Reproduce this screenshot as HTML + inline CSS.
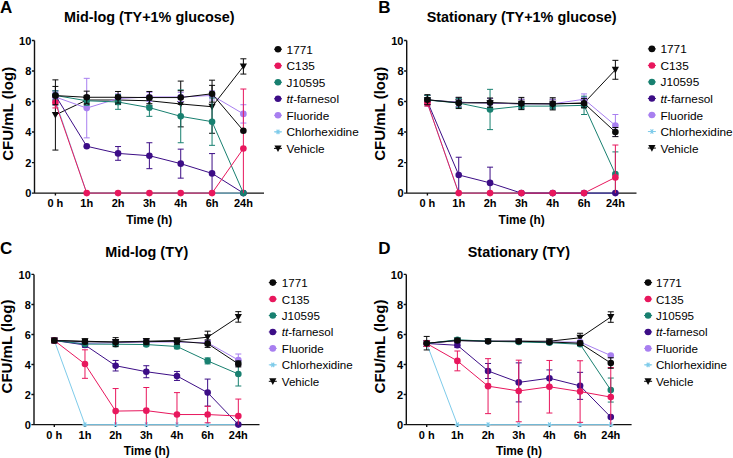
<!DOCTYPE html>
<html><head><meta charset="utf-8"><style>
html,body{margin:0;padding:0;background:#fff;}
body{width:733px;height:458px;overflow:hidden;}
svg{display:block;font-family:"Liberation Sans",sans-serif;}
.let{font-size:17px;font-weight:bold;fill:#000;}
.ttl{font-size:14.4px;font-weight:bold;fill:#000;}
.ylab{font-size:15px;font-weight:bold;fill:#000;}
.tick{font-size:11px;font-weight:bold;fill:#000;}
.xlab{font-size:11.9px;font-weight:bold;fill:#000;}
.leg{fill:#000;}
</style></head><body>
<svg width="733" height="458" viewBox="0 0 733 458">
<rect width="733" height="458" fill="#fff"/>
<g><text x="0.1" y="13.1" class="let">A</text>
<text x="149.25" y="22.1" class="ttl" text-anchor="middle">Mid-log (TY+1% glucose)</text>
<text transform="translate(12.9 113.8) rotate(-90)" class="ylab" text-anchor="middle">CFU/mL (log)</text>
<path d="M34.5 40.5V193.1M34.5 193.1H264M31.9 193.1H34.5M31.9 162.58H34.5M31.9 132.06H34.5M31.9 101.54H34.5M31.9 71.02H34.5M31.9 40.5H34.5M55.4 193.1V195.6M86.73 193.1V195.6M118.06 193.1V195.6M149.39 193.1V195.6M180.72 193.1V195.6M212.05 193.1V195.6M243.38 193.1V195.6" stroke="#111" stroke-width="1.4" fill="none"/>
<polyline points="55.4,114.97 86.73,100.01 118.06,100.01 149.39,100.78 180.72,103.98 212.05,106.73 243.38,66.44" fill="none" stroke="#0a0a0a" stroke-width="1"/>
<path d="M55.4 79.87V150.07M52.4 79.87H58.4M52.4 150.07H58.4" stroke="#0a0a0a" stroke-width="1" fill="none"/>
<path d="M86.73 95.44V104.59M83.73 95.44H89.73M83.73 104.59H89.73" stroke="#0a0a0a" stroke-width="1" fill="none"/>
<path d="M118.06 95.44V104.59M115.06 95.44H121.06M115.06 104.59H121.06" stroke="#0a0a0a" stroke-width="1" fill="none"/>
<path d="M149.39 96.2V105.35M146.39 96.2H152.39M146.39 105.35H152.39" stroke="#0a0a0a" stroke-width="1" fill="none"/>
<path d="M180.72 81.09V126.87M177.72 81.09H183.72M177.72 126.87H183.72" stroke="#0a0a0a" stroke-width="1" fill="none"/>
<path d="M212.05 80.18V133.28M209.05 80.18H215.05M209.05 133.28H215.05" stroke="#0a0a0a" stroke-width="1" fill="none"/>
<path d="M243.38 58.81V74.07M240.38 58.81H246.38M240.38 74.07H246.38" stroke="#0a0a0a" stroke-width="1" fill="none"/>
<path d="M51.8 111.97L59 111.97L55.4 118.57Z" fill="#0a0a0a"/>
<path d="M83.13 97.01L90.33 97.01L86.73 103.61Z" fill="#0a0a0a"/>
<path d="M114.46 97.01L121.66 97.01L118.06 103.61Z" fill="#0a0a0a"/>
<path d="M145.79 97.78L152.99 97.78L149.39 104.38Z" fill="#0a0a0a"/>
<path d="M177.12 100.98L184.32 100.98L180.72 107.58Z" fill="#0a0a0a"/>
<path d="M208.45 103.73L215.65 103.73L212.05 110.33Z" fill="#0a0a0a"/>
<path d="M239.78 63.44L246.98 63.44L243.38 70.04Z" fill="#0a0a0a"/>
<polyline points="55.4,100.78 86.73,193.1 118.06,193.1 149.39,193.1 180.72,193.1 212.05,193.1 243.38,193.1" fill="none" stroke="#7ecbea" stroke-width="1"/>
<path d="M55.4 96.2V105.35M52.4 96.2H58.4M52.4 105.35H58.4" stroke="#7ecbea" stroke-width="1" fill="none"/>
<path d="M52.8 100.78L58 100.78M54.1 98.53L56.7 103.03M56.7 98.53L54.1 103.03" stroke="#7ecbea" stroke-width="1.1" fill="none"/>
<path d="M84.13 193.1L89.33 193.1M85.43 190.85L88.03 195.35M88.03 190.85L85.43 195.35" stroke="#7ecbea" stroke-width="1.1" fill="none"/>
<path d="M115.46 193.1L120.66 193.1M116.76 190.85L119.36 195.35M119.36 190.85L116.76 195.35" stroke="#7ecbea" stroke-width="1.1" fill="none"/>
<path d="M146.79 193.1L151.99 193.1M148.09 190.85L150.69 195.35M150.69 190.85L148.09 195.35" stroke="#7ecbea" stroke-width="1.1" fill="none"/>
<path d="M178.12 193.1L183.32 193.1M179.42 190.85L182.02 195.35M182.02 190.85L179.42 195.35" stroke="#7ecbea" stroke-width="1.1" fill="none"/>
<path d="M209.45 193.1L214.65 193.1M210.75 190.85L213.35 195.35M213.35 190.85L210.75 195.35" stroke="#7ecbea" stroke-width="1.1" fill="none"/>
<path d="M240.78 193.1L245.98 193.1M242.08 190.85L244.68 195.35M244.68 190.85L242.08 195.35" stroke="#7ecbea" stroke-width="1.1" fill="none"/>
<polyline points="55.4,96.96 86.73,108.1 118.06,98.49 149.39,96.96 180.72,96.96 212.05,95.44 243.38,113.9" fill="none" stroke="#a87ff0" stroke-width="1"/>
<path d="M55.4 92.38V101.54M52.4 92.38H58.4M52.4 101.54H58.4" stroke="#a87ff0" stroke-width="1" fill="none"/>
<path d="M86.73 78.34V137.86M83.73 78.34H89.73M83.73 137.86H89.73" stroke="#a87ff0" stroke-width="1" fill="none"/>
<path d="M118.06 93.91V103.07M115.06 93.91H121.06M115.06 103.07H121.06" stroke="#a87ff0" stroke-width="1" fill="none"/>
<path d="M149.39 92.38V101.54M146.39 92.38H152.39M146.39 101.54H152.39" stroke="#a87ff0" stroke-width="1" fill="none"/>
<path d="M180.72 92.38V101.54M177.72 92.38H183.72M177.72 101.54H183.72" stroke="#a87ff0" stroke-width="1" fill="none"/>
<path d="M212.05 90.86V100.01M209.05 90.86H215.05M209.05 100.01H215.05" stroke="#a87ff0" stroke-width="1" fill="none"/>
<path d="M243.38 104.74V123.06M240.38 104.74H246.38M240.38 123.06H246.38" stroke="#a87ff0" stroke-width="1" fill="none"/>
<circle cx="55.4" cy="96.96" r="3.3" fill="#a87ff0"/>
<circle cx="86.73" cy="108.1" r="3.3" fill="#a87ff0"/>
<circle cx="118.06" cy="98.49" r="3.3" fill="#a87ff0"/>
<circle cx="149.39" cy="96.96" r="3.3" fill="#a87ff0"/>
<circle cx="180.72" cy="96.96" r="3.3" fill="#a87ff0"/>
<circle cx="212.05" cy="95.44" r="3.3" fill="#a87ff0"/>
<circle cx="243.38" cy="113.9" r="3.3" fill="#a87ff0"/>
<polyline points="55.4,95.44 86.73,146.25 118.06,153.42 149.39,155.71 180.72,163.65 212.05,173.41 243.38,193.1" fill="none" stroke="#3c0d86" stroke-width="1"/>
<path d="M55.4 90.86V100.01M52.4 90.86H58.4M52.4 100.01H58.4" stroke="#3c0d86" stroke-width="1" fill="none"/>
<path d="M118.06 146.56V160.29M115.06 146.56H121.06M115.06 160.29H121.06" stroke="#3c0d86" stroke-width="1" fill="none"/>
<path d="M149.39 142.74V168.68M146.39 142.74H152.39M146.39 168.68H152.39" stroke="#3c0d86" stroke-width="1" fill="none"/>
<path d="M180.72 149.15V178.15M177.72 149.15H183.72M177.72 178.15H183.72" stroke="#3c0d86" stroke-width="1" fill="none"/>
<path d="M212.05 153.58V193.1M209.05 153.58H215.05" stroke="#3c0d86" stroke-width="1" fill="none"/>
<circle cx="55.4" cy="95.44" r="3.3" fill="#3c0d86"/>
<circle cx="86.73" cy="146.25" r="3.3" fill="#3c0d86"/>
<circle cx="118.06" cy="153.42" r="3.3" fill="#3c0d86"/>
<circle cx="149.39" cy="155.71" r="3.3" fill="#3c0d86"/>
<circle cx="180.72" cy="163.65" r="3.3" fill="#3c0d86"/>
<circle cx="212.05" cy="173.41" r="3.3" fill="#3c0d86"/>
<circle cx="243.38" cy="193.1" r="3.3" fill="#3c0d86"/>
<polyline points="55.4,95.44 86.73,100.78 118.06,102 149.39,107.64 180.72,116.34 212.05,121.68 243.38,193.1" fill="none" stroke="#188070" stroke-width="1"/>
<path d="M55.4 90.86V100.01M52.4 90.86H58.4M52.4 100.01H58.4" stroke="#188070" stroke-width="1" fill="none"/>
<path d="M86.73 96.2V105.35M83.73 96.2H89.73M83.73 105.35H89.73" stroke="#188070" stroke-width="1" fill="none"/>
<path d="M118.06 94.67V109.32M115.06 94.67H121.06M115.06 109.32H121.06" stroke="#188070" stroke-width="1" fill="none"/>
<path d="M149.39 98.95V116.34M146.39 98.95H152.39M146.39 116.34H152.39" stroke="#188070" stroke-width="1" fill="none"/>
<path d="M180.72 89.94V142.74M177.72 89.94H183.72M177.72 142.74H183.72" stroke="#188070" stroke-width="1" fill="none"/>
<path d="M212.05 98.03V145.34M209.05 98.03H215.05M209.05 145.34H215.05" stroke="#188070" stroke-width="1" fill="none"/>
<circle cx="55.4" cy="95.44" r="3.3" fill="#188070"/>
<circle cx="86.73" cy="100.78" r="3.3" fill="#188070"/>
<circle cx="118.06" cy="102" r="3.3" fill="#188070"/>
<circle cx="149.39" cy="107.64" r="3.3" fill="#188070"/>
<circle cx="180.72" cy="116.34" r="3.3" fill="#188070"/>
<circle cx="212.05" cy="121.68" r="3.3" fill="#188070"/>
<circle cx="243.38" cy="193.1" r="3.3" fill="#188070"/>
<polyline points="55.4,102.61 86.73,193.1 118.06,193.1 149.39,193.1 180.72,193.1 212.05,193.1 243.38,148.54" fill="none" stroke="#e8175d" stroke-width="1"/>
<path d="M55.4 97.27V107.95M52.4 97.27H58.4M52.4 107.95H58.4" stroke="#e8175d" stroke-width="1" fill="none"/>
<path d="M243.38 89.03V193.1M240.38 89.03H246.38" stroke="#e8175d" stroke-width="1" fill="none"/>
<circle cx="55.4" cy="102.61" r="3.3" fill="#e8175d"/>
<circle cx="86.73" cy="193.1" r="3.3" fill="#e8175d"/>
<circle cx="118.06" cy="193.1" r="3.3" fill="#e8175d"/>
<circle cx="149.39" cy="193.1" r="3.3" fill="#e8175d"/>
<circle cx="180.72" cy="193.1" r="3.3" fill="#e8175d"/>
<circle cx="212.05" cy="193.1" r="3.3" fill="#e8175d"/>
<circle cx="243.38" cy="148.54" r="3.3" fill="#e8175d"/>
<polyline points="55.4,95.59 86.73,97.27 118.06,97.27 149.39,97.57 180.72,97.57 212.05,93.76 243.38,130.69" fill="none" stroke="#0a0a0a" stroke-width="1"/>
<path d="M55.4 86.43V104.74M52.4 86.43H58.4M52.4 104.74H58.4" stroke="#0a0a0a" stroke-width="1" fill="none"/>
<path d="M86.73 91.16V103.37M83.73 91.16H89.73M83.73 103.37H89.73" stroke="#0a0a0a" stroke-width="1" fill="none"/>
<path d="M118.06 91.47V103.07M115.06 91.47H121.06M115.06 103.07H121.06" stroke="#0a0a0a" stroke-width="1" fill="none"/>
<path d="M149.39 91.47V103.68M146.39 91.47H152.39M146.39 103.68H152.39" stroke="#0a0a0a" stroke-width="1" fill="none"/>
<path d="M180.72 90.71V104.44M177.72 90.71H183.72M177.72 104.44H183.72" stroke="#0a0a0a" stroke-width="1" fill="none"/>
<path d="M212.05 85.36V102.15M209.05 85.36H215.05M209.05 102.15H215.05" stroke="#0a0a0a" stroke-width="1" fill="none"/>
<circle cx="55.4" cy="95.59" r="3.3" fill="#0a0a0a"/>
<circle cx="86.73" cy="97.27" r="3.3" fill="#0a0a0a"/>
<circle cx="118.06" cy="97.27" r="3.3" fill="#0a0a0a"/>
<circle cx="149.39" cy="97.57" r="3.3" fill="#0a0a0a"/>
<circle cx="180.72" cy="97.57" r="3.3" fill="#0a0a0a"/>
<circle cx="212.05" cy="93.76" r="3.3" fill="#0a0a0a"/>
<circle cx="243.38" cy="130.69" r="3.3" fill="#0a0a0a"/>
<text x="31.3" y="197.4" class="tick" text-anchor="end">0</text>
<text x="31.3" y="166.88" class="tick" text-anchor="end">2</text>
<text x="31.3" y="136.36" class="tick" text-anchor="end">4</text>
<text x="31.3" y="105.84" class="tick" text-anchor="end">6</text>
<text x="31.3" y="75.32" class="tick" text-anchor="end">8</text>
<text x="31.3" y="44.8" class="tick" text-anchor="end">10</text>
<text x="55.4" y="207.2" class="tick" text-anchor="middle">0 h</text>
<text x="86.73" y="207.2" class="tick" text-anchor="middle">1h</text>
<text x="118.06" y="207.2" class="tick" text-anchor="middle">2h</text>
<text x="149.39" y="207.2" class="tick" text-anchor="middle">3h</text>
<text x="180.72" y="207.2" class="tick" text-anchor="middle">4h</text>
<text x="212.05" y="207.2" class="tick" text-anchor="middle">6h</text>
<text x="243.38" y="207.2" class="tick" text-anchor="middle">24h</text>
<text x="149.25" y="223.5" class="xlab" text-anchor="middle">Time (h)</text>
<path d="M274 49.2H282" stroke="#0a0a0a" stroke-width="1"/>
<circle cx="278" cy="49.2" r="3.3" fill="#0a0a0a"/>
<text x="286.6" y="53.7" class="leg" font-size="11.8">1771</text>
<path d="M274 65.73H282" stroke="#e8175d" stroke-width="1"/>
<circle cx="278" cy="65.73" r="3.3" fill="#e8175d"/>
<text x="286.6" y="70.23" class="leg" font-size="11.8">C135</text>
<path d="M274 82.26H282" stroke="#188070" stroke-width="1"/>
<circle cx="278" cy="82.26" r="3.3" fill="#188070"/>
<text x="286.6" y="86.76" class="leg" font-size="11.8">J10595</text>
<path d="M274 98.79H282" stroke="#3c0d86" stroke-width="1"/>
<circle cx="278" cy="98.79" r="3.3" fill="#3c0d86"/>
<text x="286.6" y="103.29" class="leg" font-size="11.8"><tspan font-style="italic">tt</tspan>-farnesol</text>
<path d="M274 115.32H282" stroke="#a87ff0" stroke-width="1"/>
<circle cx="278" cy="115.32" r="3.3" fill="#a87ff0"/>
<text x="286.6" y="119.82" class="leg" font-size="11.8">Fluoride</text>
<path d="M274 131.85H282" stroke="#7ecbea" stroke-width="1"/>
<path d="M275.4 131.85L280.6 131.85M276.7 129.6L279.3 134.1M279.3 129.6L276.7 134.1" stroke="#7ecbea" stroke-width="1.1" fill="none"/>
<text x="286.6" y="136.35" class="leg" font-size="11.8">Chlorhexidine</text>
<path d="M274 148.38H282" stroke="#0a0a0a" stroke-width="1"/>
<path d="M274.4 145.38L281.6 145.38L278 151.98Z" fill="#0a0a0a"/>
<text x="286.6" y="152.88" class="leg" font-size="11.8">Vehicle</text></g>
<g><text x="378.2" y="13.1" class="let">B</text>
<text x="521.6" y="22.1" class="ttl" text-anchor="middle">Stationary (TY+1% glucose)</text>
<text transform="translate(385.1 113.8) rotate(-90)" class="ylab" text-anchor="middle">CFU/mL (log)</text>
<path d="M406.7 40.5V193.1M406.7 193.1H636.5M404.1 193.1H406.7M404.1 162.58H406.7M404.1 132.06H406.7M404.1 101.54H406.7M404.1 71.02H406.7M404.1 40.5H406.7M427.4 193.1V195.6M458.73 193.1V195.6M490.06 193.1V195.6M521.39 193.1V195.6M552.72 193.1V195.6M584.05 193.1V195.6M615.38 193.1V195.6" stroke="#111" stroke-width="1.4" fill="none"/>
<polyline points="427.4,100.01 458.73,102.3 490.06,103.07 521.39,103.83 552.72,103.83 584.05,103.07 615.38,69.8" fill="none" stroke="#0a0a0a" stroke-width="1"/>
<path d="M427.4 95.44V104.59M424.4 95.44H430.4M424.4 104.59H430.4" stroke="#0a0a0a" stroke-width="1" fill="none"/>
<path d="M458.73 97.72V106.88M455.73 97.72H461.73M455.73 106.88H461.73" stroke="#0a0a0a" stroke-width="1" fill="none"/>
<path d="M490.06 98.49V107.64M487.06 98.49H493.06M487.06 107.64H493.06" stroke="#0a0a0a" stroke-width="1" fill="none"/>
<path d="M521.39 99.25V108.41M518.39 99.25H524.39M518.39 108.41H524.39" stroke="#0a0a0a" stroke-width="1" fill="none"/>
<path d="M552.72 99.25V108.41M549.72 99.25H555.72M549.72 108.41H555.72" stroke="#0a0a0a" stroke-width="1" fill="none"/>
<path d="M584.05 98.49V107.64M581.05 98.49H587.05M581.05 107.64H587.05" stroke="#0a0a0a" stroke-width="1" fill="none"/>
<path d="M615.38 60.34V79.26M612.38 60.34H618.38M612.38 79.26H618.38" stroke="#0a0a0a" stroke-width="1" fill="none"/>
<path d="M423.8 97.01L431 97.01L427.4 103.61Z" fill="#0a0a0a"/>
<path d="M455.13 99.3L462.33 99.3L458.73 105.9Z" fill="#0a0a0a"/>
<path d="M486.46 100.07L493.66 100.07L490.06 106.67Z" fill="#0a0a0a"/>
<path d="M517.79 100.83L524.99 100.83L521.39 107.43Z" fill="#0a0a0a"/>
<path d="M549.12 100.83L556.32 100.83L552.72 107.43Z" fill="#0a0a0a"/>
<path d="M580.45 100.07L587.65 100.07L584.05 106.67Z" fill="#0a0a0a"/>
<path d="M611.78 66.8L618.98 66.8L615.38 73.4Z" fill="#0a0a0a"/>
<polyline points="427.4,103.07 458.73,193.1 490.06,193.1 521.39,193.1 552.72,193.1 584.05,193.1 615.38,193.1" fill="none" stroke="#7ecbea" stroke-width="1"/>
<path d="M427.4 100.01V106.12M424.4 100.01H430.4M424.4 106.12H430.4" stroke="#7ecbea" stroke-width="1" fill="none"/>
<path d="M424.8 103.07L430 103.07M426.1 100.81L428.7 105.32M428.7 100.81L426.1 105.32" stroke="#7ecbea" stroke-width="1.1" fill="none"/>
<path d="M456.13 193.1L461.33 193.1M457.43 190.85L460.03 195.35M460.03 190.85L457.43 195.35" stroke="#7ecbea" stroke-width="1.1" fill="none"/>
<path d="M487.46 193.1L492.66 193.1M488.76 190.85L491.36 195.35M491.36 190.85L488.76 195.35" stroke="#7ecbea" stroke-width="1.1" fill="none"/>
<path d="M518.79 193.1L523.99 193.1M520.09 190.85L522.69 195.35M522.69 190.85L520.09 195.35" stroke="#7ecbea" stroke-width="1.1" fill="none"/>
<path d="M550.12 193.1L555.32 193.1M551.42 190.85L554.02 195.35M554.02 190.85L551.42 195.35" stroke="#7ecbea" stroke-width="1.1" fill="none"/>
<path d="M581.45 193.1L586.65 193.1M582.75 190.85L585.35 195.35M585.35 190.85L582.75 195.35" stroke="#7ecbea" stroke-width="1.1" fill="none"/>
<path d="M612.78 193.1L617.98 193.1M614.08 190.85L616.68 195.35M616.68 190.85L614.08 195.35" stroke="#7ecbea" stroke-width="1.1" fill="none"/>
<polyline points="427.4,100.01 458.73,102.3 490.06,103.07 521.39,103.83 552.72,103.83 584.05,99.25 615.38,125.5" fill="none" stroke="#a87ff0" stroke-width="1"/>
<path d="M427.4 95.44V104.59M424.4 95.44H430.4M424.4 104.59H430.4" stroke="#a87ff0" stroke-width="1" fill="none"/>
<path d="M458.73 97.72V106.88M455.73 97.72H461.73M455.73 106.88H461.73" stroke="#a87ff0" stroke-width="1" fill="none"/>
<path d="M490.06 98.49V107.64M487.06 98.49H493.06M487.06 107.64H493.06" stroke="#a87ff0" stroke-width="1" fill="none"/>
<path d="M521.39 99.25V108.41M518.39 99.25H524.39M518.39 108.41H524.39" stroke="#a87ff0" stroke-width="1" fill="none"/>
<path d="M552.72 99.25V108.41M549.72 99.25H555.72M549.72 108.41H555.72" stroke="#a87ff0" stroke-width="1" fill="none"/>
<path d="M584.05 93.91V104.59M581.05 93.91H587.05M581.05 104.59H587.05" stroke="#a87ff0" stroke-width="1" fill="none"/>
<path d="M615.38 114.51V136.49M612.38 114.51H618.38M612.38 136.49H618.38" stroke="#a87ff0" stroke-width="1" fill="none"/>
<circle cx="427.4" cy="100.01" r="3.3" fill="#a87ff0"/>
<circle cx="458.73" cy="102.3" r="3.3" fill="#a87ff0"/>
<circle cx="490.06" cy="103.07" r="3.3" fill="#a87ff0"/>
<circle cx="521.39" cy="103.83" r="3.3" fill="#a87ff0"/>
<circle cx="552.72" cy="103.83" r="3.3" fill="#a87ff0"/>
<circle cx="584.05" cy="99.25" r="3.3" fill="#a87ff0"/>
<circle cx="615.38" cy="125.5" r="3.3" fill="#a87ff0"/>
<polyline points="427.4,101.54 458.73,174.94 490.06,182.88 521.39,193.1 552.72,193.1 584.05,193.1 615.38,193.1" fill="none" stroke="#3c0d86" stroke-width="1"/>
<path d="M427.4 98.49V104.59M424.4 98.49H430.4M424.4 104.59H430.4" stroke="#3c0d86" stroke-width="1" fill="none"/>
<path d="M458.73 157.24V192.64M455.73 157.24H461.73M455.73 192.64H461.73" stroke="#3c0d86" stroke-width="1" fill="none"/>
<path d="M490.06 167.16V193.1M487.06 167.16H493.06" stroke="#3c0d86" stroke-width="1" fill="none"/>
<circle cx="427.4" cy="101.54" r="3.3" fill="#3c0d86"/>
<circle cx="458.73" cy="174.94" r="3.3" fill="#3c0d86"/>
<circle cx="490.06" cy="182.88" r="3.3" fill="#3c0d86"/>
<circle cx="521.39" cy="193.1" r="3.3" fill="#3c0d86"/>
<circle cx="552.72" cy="193.1" r="3.3" fill="#3c0d86"/>
<circle cx="584.05" cy="193.1" r="3.3" fill="#3c0d86"/>
<circle cx="615.38" cy="193.1" r="3.3" fill="#3c0d86"/>
<polyline points="427.4,100.01 458.73,103.07 490.06,109.48 521.39,106.12 552.72,106.12 584.05,105.35 615.38,174.03" fill="none" stroke="#188070" stroke-width="1"/>
<path d="M427.4 95.44V104.59M424.4 95.44H430.4M424.4 104.59H430.4" stroke="#188070" stroke-width="1" fill="none"/>
<path d="M458.73 98.49V107.64M455.73 98.49H461.73M455.73 107.64H461.73" stroke="#188070" stroke-width="1" fill="none"/>
<path d="M490.06 89.33V129.62M487.06 89.33H493.06M487.06 129.62H493.06" stroke="#188070" stroke-width="1" fill="none"/>
<path d="M521.39 103.07V109.17M518.39 103.07H524.39M518.39 109.17H524.39" stroke="#188070" stroke-width="1" fill="none"/>
<path d="M552.72 103.07V109.17M549.72 103.07H555.72M549.72 109.17H555.72" stroke="#188070" stroke-width="1" fill="none"/>
<path d="M584.05 96.2V114.51M581.05 96.2H587.05M581.05 114.51H587.05" stroke="#188070" stroke-width="1" fill="none"/>
<path d="M615.38 151.9V193.1M612.38 151.9H618.38" stroke="#188070" stroke-width="1" fill="none"/>
<circle cx="427.4" cy="100.01" r="3.3" fill="#188070"/>
<circle cx="458.73" cy="103.07" r="3.3" fill="#188070"/>
<circle cx="490.06" cy="109.48" r="3.3" fill="#188070"/>
<circle cx="521.39" cy="106.12" r="3.3" fill="#188070"/>
<circle cx="552.72" cy="106.12" r="3.3" fill="#188070"/>
<circle cx="584.05" cy="105.35" r="3.3" fill="#188070"/>
<circle cx="615.38" cy="174.03" r="3.3" fill="#188070"/>
<polyline points="427.4,103.07 458.73,193.1 490.06,193.1 521.39,193.1 552.72,193.1 584.05,193.1 615.38,177.38" fill="none" stroke="#e8175d" stroke-width="1"/>
<path d="M427.4 100.01V106.12M424.4 100.01H430.4M424.4 106.12H430.4" stroke="#e8175d" stroke-width="1" fill="none"/>
<path d="M615.38 145.03V193.1M612.38 145.03H618.38" stroke="#e8175d" stroke-width="1" fill="none"/>
<circle cx="427.4" cy="103.07" r="3.3" fill="#e8175d"/>
<circle cx="458.73" cy="193.1" r="3.3" fill="#e8175d"/>
<circle cx="490.06" cy="193.1" r="3.3" fill="#e8175d"/>
<circle cx="521.39" cy="193.1" r="3.3" fill="#e8175d"/>
<circle cx="552.72" cy="193.1" r="3.3" fill="#e8175d"/>
<circle cx="584.05" cy="193.1" r="3.3" fill="#e8175d"/>
<circle cx="615.38" cy="177.38" r="3.3" fill="#e8175d"/>
<polyline points="427.4,99.71 458.73,102.91 490.06,102.61 521.39,103.52 552.72,103.83 584.05,103.22 615.38,132.06" fill="none" stroke="#0a0a0a" stroke-width="1"/>
<path d="M427.4 94.67V104.74M424.4 94.67H430.4M424.4 104.74H430.4" stroke="#0a0a0a" stroke-width="1" fill="none"/>
<path d="M458.73 97.27V108.56M455.73 97.27H461.73M455.73 108.56H461.73" stroke="#0a0a0a" stroke-width="1" fill="none"/>
<path d="M490.06 98.03V107.19M487.06 98.03H493.06M487.06 107.19H493.06" stroke="#0a0a0a" stroke-width="1" fill="none"/>
<path d="M521.39 97.42V109.63M518.39 97.42H524.39M518.39 109.63H524.39" stroke="#0a0a0a" stroke-width="1" fill="none"/>
<path d="M552.72 97.72V109.93M549.72 97.72H555.72M549.72 109.93H555.72" stroke="#0a0a0a" stroke-width="1" fill="none"/>
<path d="M584.05 98.64V107.8M581.05 98.64H587.05M581.05 107.8H587.05" stroke="#0a0a0a" stroke-width="1" fill="none"/>
<path d="M615.38 127.48V136.64M612.38 127.48H618.38M612.38 136.64H618.38" stroke="#0a0a0a" stroke-width="1" fill="none"/>
<circle cx="427.4" cy="99.71" r="3.3" fill="#0a0a0a"/>
<circle cx="458.73" cy="102.91" r="3.3" fill="#0a0a0a"/>
<circle cx="490.06" cy="102.61" r="3.3" fill="#0a0a0a"/>
<circle cx="521.39" cy="103.52" r="3.3" fill="#0a0a0a"/>
<circle cx="552.72" cy="103.83" r="3.3" fill="#0a0a0a"/>
<circle cx="584.05" cy="103.22" r="3.3" fill="#0a0a0a"/>
<circle cx="615.38" cy="132.06" r="3.3" fill="#0a0a0a"/>
<text x="403.5" y="197.4" class="tick" text-anchor="end">0</text>
<text x="403.5" y="166.88" class="tick" text-anchor="end">2</text>
<text x="403.5" y="136.36" class="tick" text-anchor="end">4</text>
<text x="403.5" y="105.84" class="tick" text-anchor="end">6</text>
<text x="403.5" y="75.32" class="tick" text-anchor="end">8</text>
<text x="403.5" y="44.8" class="tick" text-anchor="end">10</text>
<text x="427.4" y="207.2" class="tick" text-anchor="middle">0 h</text>
<text x="458.73" y="207.2" class="tick" text-anchor="middle">1h</text>
<text x="490.06" y="207.2" class="tick" text-anchor="middle">2h</text>
<text x="521.39" y="207.2" class="tick" text-anchor="middle">3h</text>
<text x="552.72" y="207.2" class="tick" text-anchor="middle">4h</text>
<text x="584.05" y="207.2" class="tick" text-anchor="middle">6h</text>
<text x="615.38" y="207.2" class="tick" text-anchor="middle">24h</text>
<text x="521.6" y="223.5" class="xlab" text-anchor="middle">Time (h)</text>
<path d="M647.9 48.9H655.9" stroke="#0a0a0a" stroke-width="1"/>
<circle cx="651.9" cy="48.9" r="3.3" fill="#0a0a0a"/>
<text x="660.5" y="53.4" class="leg" font-size="11.8">1771</text>
<path d="M647.9 65.43H655.9" stroke="#e8175d" stroke-width="1"/>
<circle cx="651.9" cy="65.43" r="3.3" fill="#e8175d"/>
<text x="660.5" y="69.93" class="leg" font-size="11.8">C135</text>
<path d="M647.9 81.96H655.9" stroke="#188070" stroke-width="1"/>
<circle cx="651.9" cy="81.96" r="3.3" fill="#188070"/>
<text x="660.5" y="86.46" class="leg" font-size="11.8">J10595</text>
<path d="M647.9 98.49H655.9" stroke="#3c0d86" stroke-width="1"/>
<circle cx="651.9" cy="98.49" r="3.3" fill="#3c0d86"/>
<text x="660.5" y="102.99" class="leg" font-size="11.8"><tspan font-style="italic">tt</tspan>-farnesol</text>
<path d="M647.9 115.02H655.9" stroke="#a87ff0" stroke-width="1"/>
<circle cx="651.9" cy="115.02" r="3.3" fill="#a87ff0"/>
<text x="660.5" y="119.52" class="leg" font-size="11.8">Fluoride</text>
<path d="M647.9 131.55H655.9" stroke="#7ecbea" stroke-width="1"/>
<path d="M649.3 131.55L654.5 131.55M650.6 129.3L653.2 133.8M653.2 129.3L650.6 133.8" stroke="#7ecbea" stroke-width="1.1" fill="none"/>
<text x="660.5" y="136.05" class="leg" font-size="11.8">Chlorhexidine</text>
<path d="M647.9 148.08H655.9" stroke="#0a0a0a" stroke-width="1"/>
<path d="M648.3 145.08L655.5 145.08L651.9 151.68Z" fill="#0a0a0a"/>
<text x="660.5" y="152.58" class="leg" font-size="11.8">Vehicle</text></g>
<g><text x="0.1" y="254.1" class="let">C</text>
<text x="146.75" y="256.6" class="ttl" text-anchor="middle">Mid-log (TY)</text>
<text transform="translate(12.4 346.5) rotate(-90)" class="ylab" text-anchor="middle">CFU/mL (log)</text>
<path d="M34 274.4V424.6M34 424.6H259.5M31.4 424.6H34M31.4 394.56H34M31.4 364.52H34M31.4 334.48H34M31.4 304.44H34M31.4 274.4H34M54.3 424.6V427.1M84.97 424.6V427.1M115.64 424.6V427.1M146.31 424.6V427.1M176.98 424.6V427.1M207.65 424.6V427.1M238.32 424.6V427.1" stroke="#111" stroke-width="1.4" fill="none"/>
<polyline points="54.3,340.49 84.97,341.24 115.64,341.99 146.31,341.24 176.98,340.49 207.65,337.18 238.32,316.91" fill="none" stroke="#0a0a0a" stroke-width="1"/>
<path d="M54.3 338.24V342.74M51.3 338.24H57.3M51.3 342.74H57.3" stroke="#0a0a0a" stroke-width="1" fill="none"/>
<path d="M84.97 338.99V343.49M81.97 338.99H87.97M81.97 343.49H87.97" stroke="#0a0a0a" stroke-width="1" fill="none"/>
<path d="M115.64 339.74V344.24M112.64 339.74H118.64M112.64 344.24H118.64" stroke="#0a0a0a" stroke-width="1" fill="none"/>
<path d="M146.31 338.99V343.49M143.31 338.99H149.31M143.31 343.49H149.31" stroke="#0a0a0a" stroke-width="1" fill="none"/>
<path d="M176.98 338.24V342.74M173.98 338.24H179.98M173.98 342.74H179.98" stroke="#0a0a0a" stroke-width="1" fill="none"/>
<path d="M207.65 331.18V343.19M204.65 331.18H210.65M204.65 343.19H210.65" stroke="#0a0a0a" stroke-width="1" fill="none"/>
<path d="M238.32 311.65V322.16M235.32 311.65H241.32M235.32 322.16H241.32" stroke="#0a0a0a" stroke-width="1" fill="none"/>
<path d="M50.7 337.49L57.9 337.49L54.3 344.09Z" fill="#0a0a0a"/>
<path d="M81.37 338.24L88.57 338.24L84.97 344.84Z" fill="#0a0a0a"/>
<path d="M112.04 338.99L119.24 338.99L115.64 345.59Z" fill="#0a0a0a"/>
<path d="M142.71 338.24L149.91 338.24L146.31 344.84Z" fill="#0a0a0a"/>
<path d="M173.38 337.49L180.58 337.49L176.98 344.09Z" fill="#0a0a0a"/>
<path d="M204.05 334.18L211.25 334.18L207.65 340.78Z" fill="#0a0a0a"/>
<path d="M234.72 313.91L241.92 313.91L238.32 320.51Z" fill="#0a0a0a"/>
<polyline points="54.3,340.49 84.97,424.6 115.64,424.6 146.31,424.6 176.98,424.6 207.65,424.6 238.32,424.6" fill="none" stroke="#7ecbea" stroke-width="1"/>
<path d="M54.3 338.24V342.74M51.3 338.24H57.3M51.3 342.74H57.3" stroke="#7ecbea" stroke-width="1" fill="none"/>
<path d="M51.7 340.49L56.9 340.49M53 338.24L55.6 342.74M55.6 338.24L53 342.74" stroke="#7ecbea" stroke-width="1.1" fill="none"/>
<path d="M82.37 424.6L87.57 424.6M83.67 422.35L86.27 426.85M86.27 422.35L83.67 426.85" stroke="#7ecbea" stroke-width="1.1" fill="none"/>
<path d="M113.04 424.6L118.24 424.6M114.34 422.35L116.94 426.85M116.94 422.35L114.34 426.85" stroke="#7ecbea" stroke-width="1.1" fill="none"/>
<path d="M143.71 424.6L148.91 424.6M145.01 422.35L147.61 426.85M147.61 422.35L145.01 426.85" stroke="#7ecbea" stroke-width="1.1" fill="none"/>
<path d="M174.38 424.6L179.58 424.6M175.68 422.35L178.28 426.85M178.28 422.35L175.68 426.85" stroke="#7ecbea" stroke-width="1.1" fill="none"/>
<path d="M205.05 424.6L210.25 424.6M206.35 422.35L208.95 426.85M208.95 422.35L206.35 426.85" stroke="#7ecbea" stroke-width="1.1" fill="none"/>
<path d="M235.72 424.6L240.92 424.6M237.02 422.35L239.62 426.85M239.62 422.35L237.02 426.85" stroke="#7ecbea" stroke-width="1.1" fill="none"/>
<polyline points="54.3,340.49 84.97,343.49 115.64,342.74 146.31,341.99 176.98,341.99 207.65,342.74 238.32,360.01" fill="none" stroke="#a87ff0" stroke-width="1"/>
<path d="M54.3 338.24V342.74M51.3 338.24H57.3M51.3 342.74H57.3" stroke="#a87ff0" stroke-width="1" fill="none"/>
<path d="M84.97 341.24V345.75M81.97 341.24H87.97M81.97 345.75H87.97" stroke="#a87ff0" stroke-width="1" fill="none"/>
<path d="M115.64 340.49V344.99M112.64 340.49H118.64M112.64 344.99H118.64" stroke="#a87ff0" stroke-width="1" fill="none"/>
<path d="M146.31 339.74V344.24M143.31 339.74H149.31M143.31 344.24H149.31" stroke="#a87ff0" stroke-width="1" fill="none"/>
<path d="M176.98 339.74V344.24M173.98 339.74H179.98M173.98 344.24H179.98" stroke="#a87ff0" stroke-width="1" fill="none"/>
<path d="M207.65 340.49V344.99M204.65 340.49H210.65M204.65 344.99H210.65" stroke="#a87ff0" stroke-width="1" fill="none"/>
<path d="M238.32 354.01V366.02M235.32 354.01H241.32M235.32 366.02H241.32" stroke="#a87ff0" stroke-width="1" fill="none"/>
<circle cx="54.3" cy="340.49" r="3.3" fill="#a87ff0"/>
<circle cx="84.97" cy="343.49" r="3.3" fill="#a87ff0"/>
<circle cx="115.64" cy="342.74" r="3.3" fill="#a87ff0"/>
<circle cx="146.31" cy="341.99" r="3.3" fill="#a87ff0"/>
<circle cx="176.98" cy="341.99" r="3.3" fill="#a87ff0"/>
<circle cx="207.65" cy="342.74" r="3.3" fill="#a87ff0"/>
<circle cx="238.32" cy="360.01" r="3.3" fill="#a87ff0"/>
<polyline points="54.3,340.49 84.97,344.99 115.64,365.72 146.31,371.73 176.98,375.94 207.65,392.61 238.32,424.6" fill="none" stroke="#3c0d86" stroke-width="1"/>
<path d="M54.3 338.24V342.74M51.3 338.24H57.3M51.3 342.74H57.3" stroke="#3c0d86" stroke-width="1" fill="none"/>
<path d="M84.97 342.74V347.25M81.97 342.74H87.97M81.97 347.25H87.97" stroke="#3c0d86" stroke-width="1" fill="none"/>
<path d="M115.64 360.46V370.98M112.64 360.46H118.64M112.64 370.98H118.64" stroke="#3c0d86" stroke-width="1" fill="none"/>
<path d="M146.31 365.72V377.74M143.31 365.72H149.31M143.31 377.74H149.31" stroke="#3c0d86" stroke-width="1" fill="none"/>
<path d="M176.98 371.43V380.44M173.98 371.43H179.98M173.98 380.44H179.98" stroke="#3c0d86" stroke-width="1" fill="none"/>
<path d="M207.65 379.09V406.13M204.65 379.09H210.65M204.65 406.13H210.65" stroke="#3c0d86" stroke-width="1" fill="none"/>
<circle cx="54.3" cy="340.49" r="3.3" fill="#3c0d86"/>
<circle cx="84.97" cy="344.99" r="3.3" fill="#3c0d86"/>
<circle cx="115.64" cy="365.72" r="3.3" fill="#3c0d86"/>
<circle cx="146.31" cy="371.73" r="3.3" fill="#3c0d86"/>
<circle cx="176.98" cy="375.94" r="3.3" fill="#3c0d86"/>
<circle cx="207.65" cy="392.61" r="3.3" fill="#3c0d86"/>
<circle cx="238.32" cy="424.6" r="3.3" fill="#3c0d86"/>
<polyline points="54.3,340.49 84.97,344.09 115.64,344.24 146.31,344.54 176.98,346.5 207.65,360.92 238.32,373.98" fill="none" stroke="#188070" stroke-width="1"/>
<path d="M54.3 338.24V342.74M51.3 338.24H57.3M51.3 342.74H57.3" stroke="#188070" stroke-width="1" fill="none"/>
<path d="M84.97 342.59V345.59M81.97 342.59H87.97M81.97 345.59H87.97" stroke="#188070" stroke-width="1" fill="none"/>
<path d="M115.64 342.74V345.75M112.64 342.74H118.64M112.64 345.75H118.64" stroke="#188070" stroke-width="1" fill="none"/>
<path d="M146.31 343.04V346.05M143.31 343.04H149.31M143.31 346.05H149.31" stroke="#188070" stroke-width="1" fill="none"/>
<path d="M176.98 344.24V348.75M173.98 344.24H179.98M173.98 348.75H179.98" stroke="#188070" stroke-width="1" fill="none"/>
<path d="M207.65 357.91V363.92M204.65 357.91H210.65M204.65 363.92H210.65" stroke="#188070" stroke-width="1" fill="none"/>
<path d="M238.32 361.97V386M235.32 361.97H241.32M235.32 386H241.32" stroke="#188070" stroke-width="1" fill="none"/>
<circle cx="54.3" cy="340.49" r="3.3" fill="#188070"/>
<circle cx="84.97" cy="344.09" r="3.3" fill="#188070"/>
<circle cx="115.64" cy="344.24" r="3.3" fill="#188070"/>
<circle cx="146.31" cy="344.54" r="3.3" fill="#188070"/>
<circle cx="176.98" cy="346.5" r="3.3" fill="#188070"/>
<circle cx="207.65" cy="360.92" r="3.3" fill="#188070"/>
<circle cx="238.32" cy="373.98" r="3.3" fill="#188070"/>
<polyline points="54.3,340.49 84.97,364.07 115.64,411.08 146.31,410.63 176.98,414.54 207.65,414.54 238.32,416.04" fill="none" stroke="#e8175d" stroke-width="1"/>
<path d="M54.3 338.24V342.74M51.3 338.24H57.3M51.3 342.74H57.3" stroke="#e8175d" stroke-width="1" fill="none"/>
<path d="M84.97 349.8V378.34M81.97 349.8H87.97M81.97 378.34H87.97" stroke="#e8175d" stroke-width="1" fill="none"/>
<path d="M115.64 388.55V424.6M112.64 388.55H118.64" stroke="#e8175d" stroke-width="1" fill="none"/>
<path d="M146.31 387.5V424.6M143.31 387.5H149.31" stroke="#e8175d" stroke-width="1" fill="none"/>
<path d="M176.98 392.61V424.6M173.98 392.61H179.98" stroke="#e8175d" stroke-width="1" fill="none"/>
<path d="M207.65 406.28V422.8M204.65 406.28H210.65M204.65 422.8H210.65" stroke="#e8175d" stroke-width="1" fill="none"/>
<path d="M238.32 399.07V424.6M235.32 399.07H241.32" stroke="#e8175d" stroke-width="1" fill="none"/>
<circle cx="54.3" cy="340.49" r="3.3" fill="#e8175d"/>
<circle cx="84.97" cy="364.07" r="3.3" fill="#e8175d"/>
<circle cx="115.64" cy="411.08" r="3.3" fill="#e8175d"/>
<circle cx="146.31" cy="410.63" r="3.3" fill="#e8175d"/>
<circle cx="176.98" cy="414.54" r="3.3" fill="#e8175d"/>
<circle cx="207.65" cy="414.54" r="3.3" fill="#e8175d"/>
<circle cx="238.32" cy="416.04" r="3.3" fill="#e8175d"/>
<polyline points="54.3,340.49 84.97,341.69 115.64,342.14 146.31,341.69 176.98,341.24 207.65,343.64 238.32,363.92" fill="none" stroke="#0a0a0a" stroke-width="1"/>
<path d="M54.3 338.24V342.74M51.3 338.24H57.3M51.3 342.74H57.3" stroke="#0a0a0a" stroke-width="1" fill="none"/>
<path d="M84.97 339.44V343.94M81.97 339.44H87.97M81.97 343.94H87.97" stroke="#0a0a0a" stroke-width="1" fill="none"/>
<path d="M115.64 337.63V346.65M112.64 337.63H118.64M112.64 346.65H118.64" stroke="#0a0a0a" stroke-width="1" fill="none"/>
<path d="M146.31 338.69V344.69M143.31 338.69H149.31M143.31 344.69H149.31" stroke="#0a0a0a" stroke-width="1" fill="none"/>
<path d="M176.98 338.24V344.24M173.98 338.24H179.98M173.98 344.24H179.98" stroke="#0a0a0a" stroke-width="1" fill="none"/>
<path d="M207.65 339.89V347.4M204.65 339.89H210.65M204.65 347.4H210.65" stroke="#0a0a0a" stroke-width="1" fill="none"/>
<path d="M238.32 360.92V366.92M235.32 360.92H241.32M235.32 366.92H241.32" stroke="#0a0a0a" stroke-width="1" fill="none"/>
<circle cx="54.3" cy="340.49" r="3.3" fill="#0a0a0a"/>
<circle cx="84.97" cy="341.69" r="3.3" fill="#0a0a0a"/>
<circle cx="115.64" cy="342.14" r="3.3" fill="#0a0a0a"/>
<circle cx="146.31" cy="341.69" r="3.3" fill="#0a0a0a"/>
<circle cx="176.98" cy="341.24" r="3.3" fill="#0a0a0a"/>
<circle cx="207.65" cy="343.64" r="3.3" fill="#0a0a0a"/>
<circle cx="238.32" cy="363.92" r="3.3" fill="#0a0a0a"/>
<text x="30.8" y="428.9" class="tick" text-anchor="end">0</text>
<text x="30.8" y="398.86" class="tick" text-anchor="end">2</text>
<text x="30.8" y="368.82" class="tick" text-anchor="end">4</text>
<text x="30.8" y="338.78" class="tick" text-anchor="end">6</text>
<text x="30.8" y="308.74" class="tick" text-anchor="end">8</text>
<text x="30.8" y="278.7" class="tick" text-anchor="end">10</text>
<text x="54.3" y="438.7" class="tick" text-anchor="middle">0 h</text>
<text x="84.97" y="438.7" class="tick" text-anchor="middle">1h</text>
<text x="115.64" y="438.7" class="tick" text-anchor="middle">2h</text>
<text x="146.31" y="438.7" class="tick" text-anchor="middle">3h</text>
<text x="176.98" y="438.7" class="tick" text-anchor="middle">4h</text>
<text x="207.65" y="438.7" class="tick" text-anchor="middle">6h</text>
<text x="238.32" y="438.7" class="tick" text-anchor="middle">24h</text>
<text x="146.75" y="455" class="xlab" text-anchor="middle">Time (h)</text>
<path d="M268.8 282.6H276.8" stroke="#0a0a0a" stroke-width="1"/>
<circle cx="272.8" cy="282.6" r="3.3" fill="#0a0a0a"/>
<text x="281.8" y="287.1" class="leg" font-size="11.6">1771</text>
<path d="M268.8 299.05H276.8" stroke="#e8175d" stroke-width="1"/>
<circle cx="272.8" cy="299.05" r="3.3" fill="#e8175d"/>
<text x="281.8" y="303.55" class="leg" font-size="11.6">C135</text>
<path d="M268.8 315.5H276.8" stroke="#188070" stroke-width="1"/>
<circle cx="272.8" cy="315.5" r="3.3" fill="#188070"/>
<text x="281.8" y="320" class="leg" font-size="11.6">J10595</text>
<path d="M268.8 331.95H276.8" stroke="#3c0d86" stroke-width="1"/>
<circle cx="272.8" cy="331.95" r="3.3" fill="#3c0d86"/>
<text x="281.8" y="336.45" class="leg" font-size="11.6"><tspan font-style="italic">tt</tspan>-farnesol</text>
<path d="M268.8 348.4H276.8" stroke="#a87ff0" stroke-width="1"/>
<circle cx="272.8" cy="348.4" r="3.3" fill="#a87ff0"/>
<text x="281.8" y="352.9" class="leg" font-size="11.6">Fluoride</text>
<path d="M268.8 364.85H276.8" stroke="#7ecbea" stroke-width="1"/>
<path d="M270.2 364.85L275.4 364.85M271.5 362.6L274.1 367.1M274.1 362.6L271.5 367.1" stroke="#7ecbea" stroke-width="1.1" fill="none"/>
<text x="281.8" y="369.35" class="leg" font-size="11.6">Chlorhexidine</text>
<path d="M268.8 381.3H276.8" stroke="#0a0a0a" stroke-width="1"/>
<path d="M269.2 378.3L276.4 378.3L272.8 384.9Z" fill="#0a0a0a"/>
<text x="281.8" y="385.8" class="leg" font-size="11.6">Vehicle</text></g>
<g><text x="378.2" y="254.1" class="let">D</text>
<text x="518.95" y="256.6" class="ttl" text-anchor="middle">Stationary (TY)</text>
<text transform="translate(384.7 346.5) rotate(-90)" class="ylab" text-anchor="middle">CFU/mL (log)</text>
<path d="M406.3 274.4V424.6M406.3 424.6H631.6M403.7 424.6H406.3M403.7 394.56H406.3M403.7 364.52H406.3M403.7 334.48H406.3M403.7 304.44H406.3M403.7 274.4H406.3M426.7 424.6V427.1M457.38 424.6V427.1M488.06 424.6V427.1M518.74 424.6V427.1M549.42 424.6V427.1M580.1 424.6V427.1M610.78 424.6V427.1" stroke="#111" stroke-width="1.4" fill="none"/>
<polyline points="426.7,343.49 457.38,340.49 488.06,341.24 518.74,341.24 549.42,341.24 580.1,337.78 610.78,317.06" fill="none" stroke="#0a0a0a" stroke-width="1"/>
<path d="M426.7 340.49V346.5M423.7 340.49H429.7M423.7 346.5H429.7" stroke="#0a0a0a" stroke-width="1" fill="none"/>
<path d="M457.38 338.99V341.99M454.38 338.99H460.38M454.38 341.99H460.38" stroke="#0a0a0a" stroke-width="1" fill="none"/>
<path d="M488.06 339.74V342.74M485.06 339.74H491.06M485.06 342.74H491.06" stroke="#0a0a0a" stroke-width="1" fill="none"/>
<path d="M518.74 339.74V342.74M515.74 339.74H521.74M515.74 342.74H521.74" stroke="#0a0a0a" stroke-width="1" fill="none"/>
<path d="M549.42 339.74V342.74M546.42 339.74H552.42M546.42 342.74H552.42" stroke="#0a0a0a" stroke-width="1" fill="none"/>
<path d="M580.1 333.28V342.29M577.1 333.28H583.1M577.1 342.29H583.1" stroke="#0a0a0a" stroke-width="1" fill="none"/>
<path d="M610.78 311.8V322.31M607.78 311.8H613.78M607.78 322.31H613.78" stroke="#0a0a0a" stroke-width="1" fill="none"/>
<path d="M423.1 340.49L430.3 340.49L426.7 347.09Z" fill="#0a0a0a"/>
<path d="M453.78 337.49L460.98 337.49L457.38 344.09Z" fill="#0a0a0a"/>
<path d="M484.46 338.24L491.66 338.24L488.06 344.84Z" fill="#0a0a0a"/>
<path d="M515.14 338.24L522.34 338.24L518.74 344.84Z" fill="#0a0a0a"/>
<path d="M545.82 338.24L553.02 338.24L549.42 344.84Z" fill="#0a0a0a"/>
<path d="M576.5 334.78L583.7 334.78L580.1 341.38Z" fill="#0a0a0a"/>
<path d="M607.18 314.06L614.38 314.06L610.78 320.66Z" fill="#0a0a0a"/>
<polyline points="426.7,343.49 457.38,424.6 488.06,424.6 518.74,424.6 549.42,424.6 580.1,424.6 610.78,424.6" fill="none" stroke="#7ecbea" stroke-width="1"/>
<path d="M426.7 340.49V346.5M423.7 340.49H429.7M423.7 346.5H429.7" stroke="#7ecbea" stroke-width="1" fill="none"/>
<path d="M424.1 343.49L429.3 343.49M425.4 341.24L428 345.74M428 341.24L425.4 345.74" stroke="#7ecbea" stroke-width="1.1" fill="none"/>
<path d="M454.78 424.6L459.98 424.6M456.08 422.35L458.68 426.85M458.68 422.35L456.08 426.85" stroke="#7ecbea" stroke-width="1.1" fill="none"/>
<path d="M485.46 424.6L490.66 424.6M486.76 422.35L489.36 426.85M489.36 422.35L486.76 426.85" stroke="#7ecbea" stroke-width="1.1" fill="none"/>
<path d="M516.14 424.6L521.34 424.6M517.44 422.35L520.04 426.85M520.04 422.35L517.44 426.85" stroke="#7ecbea" stroke-width="1.1" fill="none"/>
<path d="M546.82 424.6L552.02 424.6M548.12 422.35L550.72 426.85M550.72 422.35L548.12 426.85" stroke="#7ecbea" stroke-width="1.1" fill="none"/>
<path d="M577.5 424.6L582.7 424.6M578.8 422.35L581.4 426.85M581.4 422.35L578.8 426.85" stroke="#7ecbea" stroke-width="1.1" fill="none"/>
<path d="M608.18 424.6L613.38 424.6M609.48 422.35L612.08 426.85M612.08 422.35L609.48 426.85" stroke="#7ecbea" stroke-width="1.1" fill="none"/>
<polyline points="426.7,343.49 457.38,340.49 488.06,341.24 518.74,341.24 549.42,341.99 580.1,341.99 610.78,355.51" fill="none" stroke="#a87ff0" stroke-width="1"/>
<path d="M426.7 340.49V346.5M423.7 340.49H429.7M423.7 346.5H429.7" stroke="#a87ff0" stroke-width="1" fill="none"/>
<path d="M457.38 338.99V341.99M454.38 338.99H460.38M454.38 341.99H460.38" stroke="#a87ff0" stroke-width="1" fill="none"/>
<path d="M488.06 339.74V342.74M485.06 339.74H491.06M485.06 342.74H491.06" stroke="#a87ff0" stroke-width="1" fill="none"/>
<path d="M518.74 339.74V342.74M515.74 339.74H521.74M515.74 342.74H521.74" stroke="#a87ff0" stroke-width="1" fill="none"/>
<path d="M549.42 340.49V343.49M546.42 340.49H552.42M546.42 343.49H552.42" stroke="#a87ff0" stroke-width="1" fill="none"/>
<path d="M580.1 340.49V343.49M577.1 340.49H583.1M577.1 343.49H583.1" stroke="#a87ff0" stroke-width="1" fill="none"/>
<circle cx="426.7" cy="343.49" r="3.3" fill="#a87ff0"/>
<circle cx="457.38" cy="340.49" r="3.3" fill="#a87ff0"/>
<circle cx="488.06" cy="341.24" r="3.3" fill="#a87ff0"/>
<circle cx="518.74" cy="341.24" r="3.3" fill="#a87ff0"/>
<circle cx="549.42" cy="341.99" r="3.3" fill="#a87ff0"/>
<circle cx="580.1" cy="341.99" r="3.3" fill="#a87ff0"/>
<circle cx="610.78" cy="355.51" r="3.3" fill="#a87ff0"/>
<polyline points="426.7,343.49 457.38,345.29 488.06,370.98 518.74,382.39 549.42,378.19 580.1,385.85 610.78,417.09" fill="none" stroke="#3c0d86" stroke-width="1"/>
<path d="M426.7 340.49V346.5M423.7 340.49H429.7M423.7 346.5H429.7" stroke="#3c0d86" stroke-width="1" fill="none"/>
<path d="M457.38 343.04V347.55M454.38 343.04H460.38M454.38 347.55H460.38" stroke="#3c0d86" stroke-width="1" fill="none"/>
<path d="M488.06 363.47V378.49M485.06 363.47H491.06M485.06 378.49H491.06" stroke="#3c0d86" stroke-width="1" fill="none"/>
<path d="M518.74 362.87V401.92M515.74 362.87H521.74M515.74 401.92H521.74" stroke="#3c0d86" stroke-width="1" fill="none"/>
<path d="M549.42 369.93V386.45M546.42 369.93H552.42M546.42 386.45H552.42" stroke="#3c0d86" stroke-width="1" fill="none"/>
<path d="M580.1 372.33V399.37M577.1 372.33H583.1M577.1 399.37H583.1" stroke="#3c0d86" stroke-width="1" fill="none"/>
<circle cx="426.7" cy="343.49" r="3.3" fill="#3c0d86"/>
<circle cx="457.38" cy="345.29" r="3.3" fill="#3c0d86"/>
<circle cx="488.06" cy="370.98" r="3.3" fill="#3c0d86"/>
<circle cx="518.74" cy="382.39" r="3.3" fill="#3c0d86"/>
<circle cx="549.42" cy="378.19" r="3.3" fill="#3c0d86"/>
<circle cx="580.1" cy="385.85" r="3.3" fill="#3c0d86"/>
<circle cx="610.78" cy="417.09" r="3.3" fill="#3c0d86"/>
<polyline points="426.7,343.49 457.38,339.74 488.06,341.24 518.74,341.99 549.42,342.74 580.1,344.24 610.78,390.05" fill="none" stroke="#188070" stroke-width="1"/>
<path d="M426.7 340.49V346.5M423.7 340.49H429.7M423.7 346.5H429.7" stroke="#188070" stroke-width="1" fill="none"/>
<path d="M457.38 338.24V341.24M454.38 338.24H460.38M454.38 341.24H460.38" stroke="#188070" stroke-width="1" fill="none"/>
<path d="M488.06 339.74V342.74M485.06 339.74H491.06M485.06 342.74H491.06" stroke="#188070" stroke-width="1" fill="none"/>
<path d="M518.74 340.49V343.49M515.74 340.49H521.74M515.74 343.49H521.74" stroke="#188070" stroke-width="1" fill="none"/>
<path d="M549.42 341.24V344.24M546.42 341.24H552.42M546.42 344.24H552.42" stroke="#188070" stroke-width="1" fill="none"/>
<path d="M580.1 342.74V345.75M577.1 342.74H583.1M577.1 345.75H583.1" stroke="#188070" stroke-width="1" fill="none"/>
<path d="M610.78 378.04V402.07M607.78 378.04H613.78M607.78 402.07H613.78" stroke="#188070" stroke-width="1" fill="none"/>
<circle cx="426.7" cy="343.49" r="3.3" fill="#188070"/>
<circle cx="457.38" cy="339.74" r="3.3" fill="#188070"/>
<circle cx="488.06" cy="341.24" r="3.3" fill="#188070"/>
<circle cx="518.74" cy="341.99" r="3.3" fill="#188070"/>
<circle cx="549.42" cy="342.74" r="3.3" fill="#188070"/>
<circle cx="580.1" cy="344.24" r="3.3" fill="#188070"/>
<circle cx="610.78" cy="390.05" r="3.3" fill="#188070"/>
<polyline points="426.7,343.49 457.38,360.92 488.06,386.15 518.74,390.96 549.42,386.75 580.1,391.56 610.78,397.11" fill="none" stroke="#e8175d" stroke-width="1"/>
<path d="M426.7 340.49V346.5M423.7 340.49H429.7M423.7 346.5H429.7" stroke="#e8175d" stroke-width="1" fill="none"/>
<path d="M457.38 351V370.83M454.38 351H460.38M454.38 370.83H460.38" stroke="#e8175d" stroke-width="1" fill="none"/>
<path d="M488.06 358.66V413.64M485.06 358.66H491.06M485.06 413.64H491.06" stroke="#e8175d" stroke-width="1" fill="none"/>
<path d="M518.74 360.16V421.75M515.74 360.16H521.74M515.74 421.75H521.74" stroke="#e8175d" stroke-width="1" fill="none"/>
<path d="M549.42 360.46V413.03M546.42 360.46H552.42M546.42 413.03H552.42" stroke="#e8175d" stroke-width="1" fill="none"/>
<path d="M580.1 360.76V422.35M577.1 360.76H583.1M577.1 422.35H583.1" stroke="#e8175d" stroke-width="1" fill="none"/>
<path d="M610.78 367.52V424.6M607.78 367.52H613.78" stroke="#e8175d" stroke-width="1" fill="none"/>
<circle cx="426.7" cy="343.49" r="3.3" fill="#e8175d"/>
<circle cx="457.38" cy="360.92" r="3.3" fill="#e8175d"/>
<circle cx="488.06" cy="386.15" r="3.3" fill="#e8175d"/>
<circle cx="518.74" cy="390.96" r="3.3" fill="#e8175d"/>
<circle cx="549.42" cy="386.75" r="3.3" fill="#e8175d"/>
<circle cx="580.1" cy="391.56" r="3.3" fill="#e8175d"/>
<circle cx="610.78" cy="397.11" r="3.3" fill="#e8175d"/>
<polyline points="426.7,343.19 457.38,340.49 488.06,341.24 518.74,341.24 549.42,341.99 580.1,343.19 610.78,363.02" fill="none" stroke="#0a0a0a" stroke-width="1"/>
<path d="M426.7 336.43V349.95M423.7 336.43H429.7M423.7 349.95H429.7" stroke="#0a0a0a" stroke-width="1" fill="none"/>
<path d="M457.38 338.99V341.99M454.38 338.99H460.38M454.38 341.99H460.38" stroke="#0a0a0a" stroke-width="1" fill="none"/>
<path d="M488.06 339.74V342.74M485.06 339.74H491.06M485.06 342.74H491.06" stroke="#0a0a0a" stroke-width="1" fill="none"/>
<path d="M518.74 339.74V342.74M515.74 339.74H521.74M515.74 342.74H521.74" stroke="#0a0a0a" stroke-width="1" fill="none"/>
<path d="M549.42 340.49V343.49M546.42 340.49H552.42M546.42 343.49H552.42" stroke="#0a0a0a" stroke-width="1" fill="none"/>
<path d="M580.1 340.94V345.44M577.1 340.94H583.1M577.1 345.44H583.1" stroke="#0a0a0a" stroke-width="1" fill="none"/>
<path d="M610.78 357.76V368.28M607.78 357.76H613.78M607.78 368.28H613.78" stroke="#0a0a0a" stroke-width="1" fill="none"/>
<circle cx="426.7" cy="343.19" r="3.3" fill="#0a0a0a"/>
<circle cx="457.38" cy="340.49" r="3.3" fill="#0a0a0a"/>
<circle cx="488.06" cy="341.24" r="3.3" fill="#0a0a0a"/>
<circle cx="518.74" cy="341.24" r="3.3" fill="#0a0a0a"/>
<circle cx="549.42" cy="341.99" r="3.3" fill="#0a0a0a"/>
<circle cx="580.1" cy="343.19" r="3.3" fill="#0a0a0a"/>
<circle cx="610.78" cy="363.02" r="3.3" fill="#0a0a0a"/>
<text x="403.1" y="428.9" class="tick" text-anchor="end">0</text>
<text x="403.1" y="398.86" class="tick" text-anchor="end">2</text>
<text x="403.1" y="368.82" class="tick" text-anchor="end">4</text>
<text x="403.1" y="338.78" class="tick" text-anchor="end">6</text>
<text x="403.1" y="308.74" class="tick" text-anchor="end">8</text>
<text x="403.1" y="278.7" class="tick" text-anchor="end">10</text>
<text x="426.7" y="438.7" class="tick" text-anchor="middle">0 h</text>
<text x="457.38" y="438.7" class="tick" text-anchor="middle">1h</text>
<text x="488.06" y="438.7" class="tick" text-anchor="middle">2h</text>
<text x="518.74" y="438.7" class="tick" text-anchor="middle">3h</text>
<text x="549.42" y="438.7" class="tick" text-anchor="middle">4h</text>
<text x="580.1" y="438.7" class="tick" text-anchor="middle">6h</text>
<text x="610.78" y="438.7" class="tick" text-anchor="middle">24h</text>
<text x="518.95" y="455" class="xlab" text-anchor="middle">Time (h)</text>
<path d="M644.1 282.6H652.1" stroke="#0a0a0a" stroke-width="1"/>
<circle cx="648.1" cy="282.6" r="3.3" fill="#0a0a0a"/>
<text x="656" y="287.1" class="leg" font-size="11.6">1771</text>
<path d="M644.1 299.05H652.1" stroke="#e8175d" stroke-width="1"/>
<circle cx="648.1" cy="299.05" r="3.3" fill="#e8175d"/>
<text x="656" y="303.55" class="leg" font-size="11.6">C135</text>
<path d="M644.1 315.5H652.1" stroke="#188070" stroke-width="1"/>
<circle cx="648.1" cy="315.5" r="3.3" fill="#188070"/>
<text x="656" y="320" class="leg" font-size="11.6">J10595</text>
<path d="M644.1 331.95H652.1" stroke="#3c0d86" stroke-width="1"/>
<circle cx="648.1" cy="331.95" r="3.3" fill="#3c0d86"/>
<text x="656" y="336.45" class="leg" font-size="11.6"><tspan font-style="italic">tt</tspan>-farnesol</text>
<path d="M644.1 348.4H652.1" stroke="#a87ff0" stroke-width="1"/>
<circle cx="648.1" cy="348.4" r="3.3" fill="#a87ff0"/>
<text x="656" y="352.9" class="leg" font-size="11.6">Fluoride</text>
<path d="M644.1 364.85H652.1" stroke="#7ecbea" stroke-width="1"/>
<path d="M645.5 364.85L650.7 364.85M646.8 362.6L649.4 367.1M649.4 362.6L646.8 367.1" stroke="#7ecbea" stroke-width="1.1" fill="none"/>
<text x="656" y="369.35" class="leg" font-size="11.6">Chlorhexidine</text>
<path d="M644.1 381.3H652.1" stroke="#0a0a0a" stroke-width="1"/>
<path d="M644.5 378.3L651.7 378.3L648.1 384.9Z" fill="#0a0a0a"/>
<text x="656" y="385.8" class="leg" font-size="11.6">Vehicle</text></g>
</svg></body></html>
